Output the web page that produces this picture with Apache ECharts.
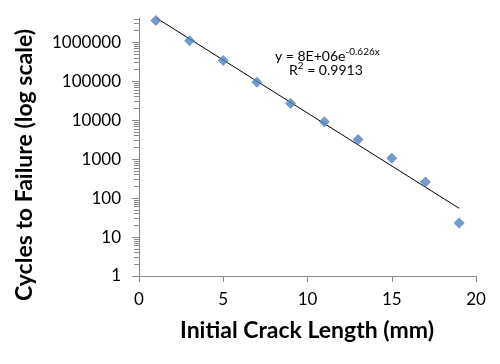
<!DOCTYPE html>
<html>
<head>
<meta charset="utf-8">
<script src="https://cdn.jsdelivr.net/npm/echarts@6/dist/echarts.min.js"></script>
<style>html,body{margin:0;padding:0;background:#fff}#c{width:500px;height:364px}</style>
</head>
<body>
<div id="c"></div>
<script>
const crackLength = [1, 3, 5, 7, 9, 11, 13, 15, 17, 19];
const cyclesToFailure = [3600000, 1100000, 340000, 94000, 27000, 9100, 3200, 1050, 260, 23];
const trendX = [1, 19];
const trendY = [4280000, 54.6];
const yTickValues = [1, 10, 100, 1000, 10000, 100000, 1000000];
const xTickLabels = [0, 5, 10, 15, 20];
const equationText = 'y = 8E+06e';
const equationExp = '-0.626x';
const r2Text = '0.9913';

const minorTicks = [];
for (let d = 1; d <= 1000000; d *= 10) {
  for (let k = 2; k <= 9; k++) {
    if (d * k <= 4200000) minorTicks.push(d * k);
  }
}

const FONT = 'Lato';
const axisColor = '#898989';
const chart = echarts.init(document.getElementById('c'), null, {renderer: 'canvas'});
chart.setOption({
  animation: false,
  grid: {left: 139, right: 24, top: 18, bottom: 88, containLabel: false},
  xAxis: {
    type: 'value', min: 0, max: 20, interval: 5,
    axisLine: {show: true, lineStyle: {color: axisColor, width: 1}},
    axisTick: {show: true, length: 6, lineStyle: {color: axisColor}},
    splitLine: {show: false},
    axisLabel: {margin: 15, color: '#000', fontFamily: FONT, fontSize: 17,
      formatter: v => xTickLabels.includes(v) ? String(v) : ''}
  },
  yAxis: [{
    type: 'log', logBase: 10, min: 1, max: 4200000,
    axisLine: {show: true, lineStyle: {color: axisColor, width: 1}},
    axisTick: {show: true, length: 7, customValues: yTickValues, lineStyle: {color: axisColor}},
    splitLine: {show: false},
    axisLabel: {margin: 18, color: '#000', fontFamily: FONT, fontSize: 17,
      customValues: yTickValues, formatter: v => String(Math.round(v))}
  }, {
    type: 'log', logBase: 10, min: 1, max: 4200000, position: 'left',
    axisLine: {show: false},
    axisTick: {show: true, length: 5, customValues: minorTicks, lineStyle: {color: axisColor}},
    axisLabel: {show: false},
    splitLine: {show: false}
  }],
  series: [{
    type: 'line',
    data: trendX.map((x, i) => [x, trendY[i]]),
    showSymbol: false,
    lineStyle: {color: '#000', width: 1},
    z: 2
  }, {
    type: 'scatter',
    data: crackLength.map((x, i) => [x, cyclesToFailure[i]]),
    symbol: 'diamond',
    symbolSize: 11,
    itemStyle: {color: '#4F81BD'},
    z: 3
  }],
  graphic: [{
    type: 'text', x: 307, y: 331,
    style: {
      x: 0, y: 0, text: 'Initial Crack Length (mm)', fill: '#000',
      font: 'bold 23px ' + FONT, align: 'center', verticalAlign: 'middle'
    }
  }, {
    type: 'text', x: 25, y: 165, rotation: Math.PI / 2,
    style: {
      x: 0, y: 0, text: 'Cycles to Failure (log scale)', fill: '#000',
      font: 'bold 23px ' + FONT, align: 'center', verticalAlign: 'middle'
    }
  }, {
    type: 'text', x: 275, y: 55,
    style: {
      text: '{a|' + equationText + '}{b|' + equationExp + '}',
      verticalAlign: 'middle', align: 'left',
      rich: {
        a: {fontFamily: FONT, fontSize: 14, fill: '#000', verticalAlign: 'bottom'},
        b: {fontFamily: FONT, fontSize: 10, fill: '#000', verticalAlign: 'top', padding: [0, 0, 6, 0]}
      }
    }
  }, {
    type: 'text', x: 289, y: 70,
    style: {
      text: '{a|R}{b|2}{a| = ' + r2Text + '}',
      verticalAlign: 'middle', align: 'left',
      rich: {
        a: {fontFamily: FONT, fontSize: 14, fill: '#000'},
        b: {fontFamily: FONT, fontSize: 10, fill: '#000', padding: [0, 0, 8, 0]}
      }
    }
  }]
});
</script>
</body>
</html>
